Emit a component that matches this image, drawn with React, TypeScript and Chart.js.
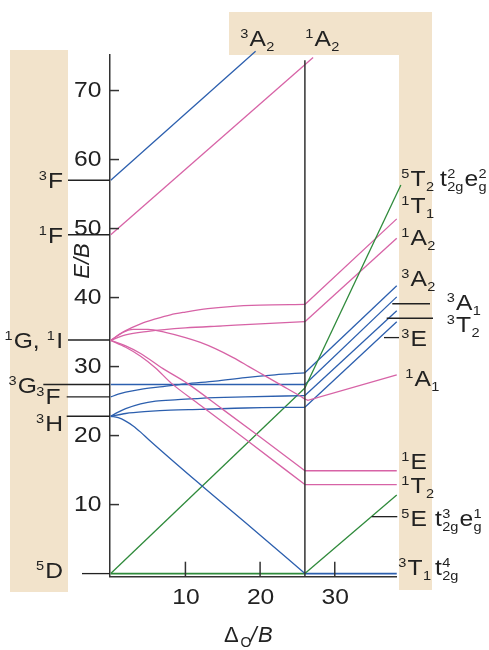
import React, { useEffect, useRef } from 'react';
import { Chart, registerables } from 'chart.js';

Chart.register(...registerables);

// ---------- axis ticks ----------
const xTickValues = [10, 20, 30];
const yTickValues = [10, 20, 30, 40, 50, 60, 70];

// ---------- free-ion term energies (E/B at Δo/B = 0) ----------
const termNames = ['3F', '1F', '1G, 1I', '3G', '3F', '3H', '5D'];
const termEnergies = [57.0, 49.1, 33.85, 27.4, 25.6, 22.8, 0];

// ---------- weak-field side (Δo/B from 0 to the crossover) : [Δo/B, E/B] ----------
const wA2triplet = [[0, 57.0], [19.4, 75.7]];
const wA2singlet = [[0, 49.1], [27.1, 74.8]];
const wT1singlet = [[0, 33.8], [2, 35.2], [4, 36.2], [6, 36.9], [8, 37.5], [10, 37.9], [13, 38.4], [16, 38.7], [20, 38.9], [26, 39.0]];
const wA2singletB = [[0, 33.8], [2, 34.6], [5, 35.1], [10, 35.6], [15, 35.9], [20, 36.2], [26, 36.5]];
const wA1singlet = [[0, 33.8], [1.5, 34.9], [3, 35.4], [5, 35.4], [7.3, 34.95], [10, 34.2], [12, 33.5], [14, 32.6], [16.4, 31.3], [18.5, 30.0], [20.9, 28.5], [23, 27.2], [25.4, 25.7], [26, 25.3]];
const wEsinglet = [[0, 33.8], [2, 33.0], [4, 31.9], [7, 29.7], [10.2, 27.6], [15, 23.8], [20, 19.8], [26, 14.9]];
const wT2singlet = [[0, 33.8], [2, 32.8], [4, 31.5], [6, 29.8], [8.1, 27.6], [12, 24.4], [18, 19.5], [26, 12.9]];
const wT1triplet = [[0, 22.8], [1, 22.6], [2, 22.1], [3, 21.4], [4, 20.5], [5.1, 19.4], [12, 12.9], [19, 6.5], [26, 0]];
const wEtriplet = [[0, 22.8], [2, 23.2], [5, 23.5], [8, 23.7], [12, 23.8], [18, 24.0], [26, 24.1]];
const wT2triplet = [[0, 22.8], [1, 23.4], [2, 23.9], [4, 24.6], [6, 25.0], [9, 25.2], [12, 25.4], [18, 25.6], [26, 25.8]];
const wA2tripletB = [[0, 25.6], [1, 26.0], [2, 26.3], [4, 26.7], [7, 27.1], [10, 27.5], [14, 27.9], [18, 28.4], [22, 28.8], [26, 29.1]];
const wA1triplet = [[0, 27.4], [26, 27.4]];
const wT2quintet = [[0, 0], [26, 26.9]];
const wEquintet = [[0, 0], [26, 0]];

// ---------- strong-field side (crossover to the right edge) ----------
const sT2quintet = [[26, 26.9], [38.85, 56.3]];
const sEquintet = [[26, 0], [38.3, 11.4]];
const sT1triplet = [[26, 0], [38.3, 0]];
const sT1singlet = [[26, 39.0], [38.3, 51.4]];
const sA2singlet = [[26, 36.5], [38.3, 48.6]];
const sA1singlet = [[26, 25.3], [26.4, 25.1], [38.3, 28.8]];
const sEsinglet = [[26, 14.9], [38.3, 14.9]];
const sT2singlet = [[26, 12.9], [38.3, 12.9]];
const sA2triplet = [[26, 29.1], [38.3, 41.7]];
const sA1triplet = [[26, 27.4], [38.3, 40.1]];
const sT2triplet = [[26, 25.8], [38.3, 38.1]];
const sEtriplet = [[26, 24.1], [38.3, 36.5]];
const crossoverLine = [[26, -0.45], [26, 74.4]];

// ---------- styles ----------
const BLUE = '#2c5fae';
const PINK = '#d763a6';
const GREEN = '#2f8a3b';
const INK = '#222222';
const AXIS = '#333333';
const PANEL = '#f2e3cb';
const FAM = '"Liberation Sans", Arial, Helvetica, sans-serif';
const MAIN = `22px ${FAM}`;
const SMALL = `13px ${FAM}`;
const HS = 1.12; // horizontal stretch of label lettering

type Part = string | { sup?: string; sub?: string };

// label layout: [pixel x, E/B of vertical centre, align, parts]
const leftLabels: [number, number, string, Part[]][] = [
  [63, 57.0, 'right', [{ sup: '3' }, 'F']],
  [63, 49.1, 'right', [{ sup: '1' }, 'F']],
  [63, 33.85, 'right', [{ sup: '1' }, 'G, ', { sup: '1' }, 'I']],
  [37, 27.3, 'right', [{ sup: '3' }, 'G']],
  [60.5, 25.7, 'right', [{ sup: '3' }, 'F']],
  [63, 21.8, 'right', [{ sup: '3' }, 'H']],
  [63, 0.45, 'right', [{ sup: '5' }, 'D']],
];
const rightLabels: [number, number, string, Part[]][] = [
  [401, 57.3, 'left', [{ sup: '5' }, 'T', { sub: '2' }]],
  [440, 57.3, 'left', ['t', { sup: '2', sub: '2g' }, 'e', { sup: '2', sub: 'g' }]],
  [401, 53.4, 'left', [{ sup: '1' }, 'T', { sub: '1' }]],
  [401, 48.8, 'left', [{ sup: '1' }, 'A', { sub: '2' }]],
  [401, 42.8, 'left', [{ sup: '3' }, 'A', { sub: '2' }]],
  [446.5, 39.4, 'left', [{ sup: '3' }, 'A', { sub: '1' }]],
  [446.5, 36.2, 'left', [{ sup: '3' }, 'T', { sub: '2' }]],
  [401, 34.1, 'left', [{ sup: '3' }, 'E']],
  [405, 28.4, 'left', [{ sup: '1' }, 'A', { sub: '1' }]],
  [401, 16.3, 'left', [{ sup: '1' }, 'E']],
  [401, 12.8, 'left', [{ sup: '1' }, 'T', { sub: '2' }]],
  [401, 8.1, 'left', [{ sup: '5' }, 'E']],
  [435, 8.1, 'left', ['t', { sup: '3', sub: '2g' }, 'e', { sup: '1', sub: 'g' }]],
  [398, 0.95, 'left', [{ sup: '3' }, 'T', { sub: '1' }]],
  [435, 0.95, 'left', ['t', { sup: '4', sub: '2g' }]],
  [240, 77.6, 'left', [{ sup: '3' }, 'A', { sub: '2' }]],
  [305, 77.6, 'left', [{ sup: '1' }, 'A', { sub: '2' }]],
];
// pointer lines: left ones run from x0 to the y axis
const leftPointerStarts = [68, 68, 68, 43.3, 66.7, 66.7, 82];
// right pointer lines: [x0, x1, E/B]
const rightPointers = [[392.3, 430, 39.1], [386.7, 433, 37.0], [384, 399, 34.2], [371.7, 397.3, 8.25]];

function textW(ctx: CanvasRenderingContext2D, t: string, font: string) {
  ctx.font = font;
  return ctx.measureText(t).width * HS;
}

function fillScaled(ctx: CanvasRenderingContext2D, t: string, x: number, y: number, font: string) {
  ctx.font = font;
  ctx.save();
  ctx.translate(x, y);
  ctx.scale(HS, 1);
  ctx.fillText(t, 0, 0);
  ctx.restore();
}

function partWidth(ctx: CanvasRenderingContext2D, p: Part): number {
  if (typeof p === 'string') return textW(ctx, p, MAIN);
  const a = p.sup ? textW(ctx, p.sup, SMALL) : 0;
  const b = p.sub ? textW(ctx, p.sub, SMALL) : 0;
  return Math.max(a, b) + 1.5;
}

function drawRich(ctx: CanvasRenderingContext2D, x: number, yc: number, parts: Part[], align: string) {
  const total = parts.reduce((s, p) => s + partWidth(ctx, p), 0);
  let cx = align === 'right' ? x - total : x;
  const base = yc + 8;
  ctx.textAlign = 'left';
  ctx.textBaseline = 'alphabetic';
  for (const p of parts) {
    const w = partWidth(ctx, p);
    if (typeof p === 'string') {
      fillScaled(ctx, p, cx, base, MAIN);
    } else {
      if (p.sup) fillScaled(ctx, p.sup, cx + 0.3, base - 8, SMALL);
      if (p.sub) fillScaled(ctx, p.sub, cx + 0.3, base + 5, SMALL);
    }
    cx += w;
  }
}

const panelPlugin = {
  id: 'panels',
  beforeDraw(chart: any) {
    const ctx = chart.ctx as CanvasRenderingContext2D;
    ctx.save();
    ctx.fillStyle = PANEL;
    ctx.fillRect(10, 50, 58, 542);
    ctx.fillRect(229, 12, 203, 43);
    ctx.fillRect(399, 12, 33, 578);
    ctx.restore();
  },
};

const decorPlugin = {
  id: 'decor',
  afterDatasetsDraw(chart: any) {
    const ctx = chart.ctx as CanvasRenderingContext2D;
    const xs = chart.scales.x;
    const ys = chart.scales.y;
    const area = chart.chartArea;
    ctx.save();
    ctx.strokeStyle = INK;
    ctx.lineWidth = 1.3;
    // left term pointer lines
    termEnergies.forEach((e, i) => {
      const y = ys.getPixelForValue(e);
      ctx.beginPath();
      ctx.moveTo(leftPointerStarts[i], y);
      ctx.lineTo(area.left, y);
      ctx.stroke();
    });
    // right pointer lines
    rightPointers.forEach(([x0, x1, e]) => {
      const y = ys.getPixelForValue(e);
      ctx.beginPath();
      ctx.moveTo(x0, y);
      ctx.lineTo(x1, y);
      ctx.stroke();
    });
    // inward tick marks
    ctx.strokeStyle = AXIS;
    ctx.lineWidth = 1.5;
    yTickValues.forEach((v) => {
      const y = ys.getPixelForValue(v);
      ctx.beginPath();
      ctx.moveTo(area.left, y);
      ctx.lineTo(area.left + 9, y);
      ctx.stroke();
    });
    xTickValues.forEach((v) => {
      const x = xs.getPixelForValue(v);
      ctx.beginPath();
      ctx.moveTo(x, area.bottom);
      ctx.lineTo(x, area.bottom - 15);
      ctx.stroke();
    });
    ctx.fillStyle = INK;
    ctx.textAlign = 'left';
    ctx.textBaseline = 'alphabetic';
    // tick numbers
    yTickValues.forEach((v) => {
      const t = String(v);
      const w = textW(ctx, t, MAIN);
      fillScaled(ctx, t, area.left - 8.5 - w, ys.getPixelForValue(v) - 2 + 8, MAIN);
    });
    xTickValues.forEach((v) => {
      const t = String(v);
      const w = textW(ctx, t, MAIN);
      fillScaled(ctx, t, xs.getPixelForValue(v) - w / 2 + 0.5, 604, MAIN);
    });
    // term labels
    leftLabels.forEach(([x, e, al, parts]) => drawRich(ctx, x, ys.getPixelForValue(e), parts, al));
    rightLabels.forEach(([x, e, al, parts]) => drawRich(ctx, x, ys.getPixelForValue(e), parts, al));
    // y title
    ctx.save();
    ctx.translate(83, 261);
    ctx.rotate(-Math.PI / 2);
    ctx.font = `italic 22px ${FAM}`;
    ctx.textAlign = 'center';
    ctx.textBaseline = 'middle';
    ctx.fillText('E/B', 0, 0);
    ctx.restore();
    // x title
    ctx.textAlign = 'left';
    ctx.textBaseline = 'alphabetic';
    ctx.font = MAIN;
    ctx.fillText('\u0394', 224, 641.7);
    ctx.font = `14px ${FAM}`;
    ctx.fillText('O', 240.5, 647);
    ctx.font = `italic 22px ${FAM}`;
    ctx.fillText('/', 250.5, 641.7);
    ctx.fillText('B', 258, 641.7);
    ctx.restore();
  },
};

function toPts(arr: number[][]) {
  return arr.map(([x, y]) => ({ x, y }));
}

function line(arr: number[][], color: string, curved = false, width = 1.3) {
  return {
    data: toPts(arr),
    showLine: true,
    borderColor: color,
    borderWidth: width,
    pointRadius: 0,
    fill: false,
    clip: false as any,
    cubicInterpolationMode: curved ? 'monotone' : 'default',
    tension: curved ? 0.4 : 0,
  };
}

export default function App() {
  const ref = useRef<HTMLCanvasElement | null>(null);
  useEffect(() => {
    if (!ref.current) return;
    const datasets: any[] = [
      line(crossoverLine, AXIS, false, 1.5),
      line(wA2triplet, BLUE),
      line(wA2singlet, PINK),
      line(wT1singlet, PINK, true),
      line(wA2singletB, PINK, true),
      line(wA1singlet, PINK, true),
      line(wEsinglet, PINK, true),
      line(wT2singlet, PINK, true),
      line(wT1triplet, BLUE, true),
      line(wEtriplet, BLUE, true),
      line(wT2triplet, BLUE, true),
      line(wA2tripletB, BLUE, true),
      line(wA1triplet, BLUE),
      line(wT2quintet, GREEN),
      line(wEquintet, GREEN, false, 1.6),
      line(sT2quintet, GREEN),
      line(sEquintet, GREEN),
      line(sT1triplet, BLUE, false, 1.6),
      line(sT1singlet, PINK),
      line(sA2singlet, PINK),
      line(sA1singlet, PINK),
      line(sEsinglet, PINK),
      line(sT2singlet, PINK),
      line(sA2triplet, BLUE),
      line(sA1triplet, BLUE),
      line(sT2triplet, BLUE),
      line(sEtriplet, BLUE),
    ];
    const chart = new Chart(ref.current, {
      type: 'scatter',
      data: { datasets },
      options: {
        animation: false,
        responsive: false,
        devicePixelRatio: 1,
        events: [],
        layout: { padding: { left: 10, top: 55, right: 93, bottom: 33.3 } },
        plugins: { legend: { display: false }, tooltip: { enabled: false }, title: { display: false } },
        scales: {
          x: {
            type: 'linear',
            min: -0.1,
            max: 38.2,
            afterFit: (s: any) => { s.height = 40; },
            afterBuildTicks: (s: any) => { s.ticks = xTickValues.map((v) => ({ value: v })); },
            grid: { display: false, drawTicks: false },
            border: { display: true, color: AXIS, width: 1.5 },
            ticks: { display: false },
          },
          y: {
            type: 'linear',
            min: -0.45,
            max: 75.15,
            afterFit: (s: any) => { s.width = 100; },
            afterBuildTicks: (s: any) => { s.ticks = yTickValues.map((v) => ({ value: v })); },
            grid: { display: false, drawTicks: false },
            border: { display: true, color: AXIS, width: 1.5 },
            ticks: { display: false },
          },
        },
      } as any,
      plugins: [panelPlugin, decorPlugin],
    });
    return () => chart.destroy();
  }, []);
  return (
    <div style={{ position: 'fixed', left: 0, top: 0, width: 489, height: 650, background: '#ffffff' }}>
      <canvas ref={ref} width={489} height={650} style={{ display: 'block', width: 489, height: 650 }} />
    </div>
  );
}
